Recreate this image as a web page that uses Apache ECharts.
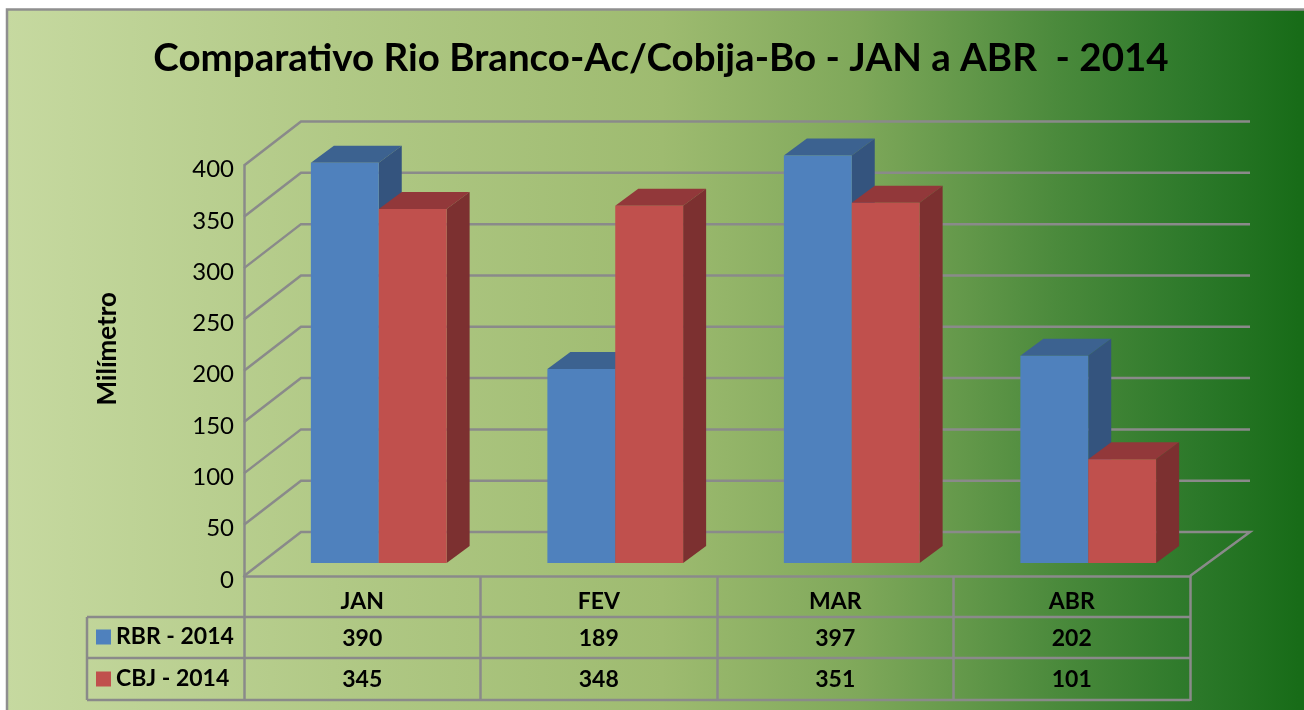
<!DOCTYPE html>
<html>
<head>
<meta charset="utf-8">
<title>Comparativo Rio Branco-Ac/Cobija-Bo</title>
<script src="https://cdn.jsdelivr.net/npm/echarts@6/dist/echarts.min.js"></script>
<style>
html, body { margin: 0; padding: 0; background: #fff; }
#chart { width: 1304px; height: 710px; }
</style>
</head>
<body>
<div id="chart"></div>
<script>
var months = ['JAN', 'FEV', 'MAR', 'ABR'];
var yTicks = [0, 50, 100, 150, 200, 250, 300, 350, 400];
var rbr = [390, 189, 397, 202];
var cbj = [345, 348, 351, 101];

var font = 'Lato, "Open Sans", sans-serif';
var gridColor = '#8a8a8a';
var gridWidth = 2.5;

// 3d look: how far the back wall and the bars sit from the front plane
var wallDx = 57, wallDxRight = 60, wallDy = -44;
var barDx = 23, barDy = -17;
var floorDx = 16.5, floorDy = -13;
var rowY = [638.5, 679.5];

var chart = echarts.init(document.getElementById('chart'), null, {renderer: 'canvas'});

function renderWall(params, api) {
    var tick = api.value(0);
    var p = api.coord([0, tick]);
    var x0 = params.coordSys.x;
    var x1 = x0 + params.coordSys.width;
    var pts = [[x0, p[1]], [x0 + wallDx, p[1] + wallDy], [x1 + wallDxRight, p[1] + wallDy]];
    if (tick === 0) pts.push([x1, p[1]]);
    return {
        type: 'polyline',
        shape: {points: pts},
        style: {stroke: gridColor, lineWidth: gridWidth, fill: null}
    };
}

function barRenderer(side, colors, row) {
    return function (params, api) {
        var i = api.value(0);
        var top = api.coord([i, api.value(1)]);
        var base = api.coord([i, 0]);
        var w = api.size([1, 0])[0] * 0.287;
        var x0 = top[0] + floorDx + (side < 0 ? -w : 0);
        var x1 = x0 + w;
        var y0 = top[1] + floorDy;
        var y1 = base[1] + floorDy;
        return {
            type: 'group',
            children: [
                {type: 'polygon', shape: {points: [[x0, y0], [x0 + barDx, y0 + barDy], [x1 + barDx, y0 + barDy], [x1, y0]]}, style: {fill: colors[1]}},
                {type: 'polygon', shape: {points: [[x1, y0], [x1 + barDx, y0 + barDy], [x1 + barDx, y1 + barDy], [x1, y1]]}, style: {fill: colors[2]}},
                {type: 'rect', shape: {x: x0, y: y0, width: w, height: y1 - y0}, style: {fill: colors[0]}},
                {type: 'text', x: base[0], y: rowY[row], style: {
                    text: String(api.value(1)), font: 'bold 23px ' + font, fill: '#000',
                    align: 'center', verticalAlign: 'middle'
                }}
            ]
        };
    };
}

var tableLeft = 87, tableRight = 1190;
var tableRows = [617, 658, 700];
var frame = [
    {
        type: 'rect', z: -10,
        shape: {x: 7, y: 9.5, width: 1310, height: 712},
        style: {
            fill: new echarts.graphic.LinearGradient(0, 0, 1, 0, [
                {offset: 0, color: '#c6d9a0'},
                {offset: 0.25, color: '#b1c986'},
                {offset: 0.5, color: '#9ebb70'},
                {offset: 0.65, color: '#7fa85a'},
                {offset: 0.8, color: '#4b8a3c'},
                {offset: 0.91, color: '#2b7829'},
                {offset: 0.985, color: '#186c18'},
                {offset: 1, color: '#186c18'}
            ]),
            stroke: '#8f8f8f', lineWidth: 2.5
        }
    },
    {
        type: 'line', z: 1,
        shape: {x1: tableLeft, y1: tableRows[0], x2: tableLeft, y2: tableRows[2]},
        style: {stroke: gridColor, lineWidth: gridWidth}
    }
];
tableRows.forEach(function (y) {
    frame.push({
        type: 'line', z: 1,
        shape: {x1: tableLeft, y1: y, x2: tableRight, y2: y},
        style: {stroke: gridColor, lineWidth: gridWidth}
    });
});

chart.setOption({
    animation: false,
    backgroundColor: '#fff',
    graphic: frame,
    title: {
        text: 'Comparativo Rio Branco-Ac/Cobija-Bo - JAN a ABR  - 2014',
        left: 656, top: 34, textAlign: 'center',
        textStyle: {fontFamily: font, fontWeight: 'bold', fontSize: 38.5, color: '#000'}
    },
    legend: {
        data: ['RBR - 2014', 'CBJ - 2014'],
        orient: 'vertical', left: 96, top: 623,
        padding: 0,
        icon: 'rect', itemWidth: 15, itemHeight: 15, itemGap: 14,
        selectedMode: false,
        textStyle: {fontFamily: font, fontWeight: 'bold', fontSize: 23, color: '#000', lineHeight: 28}
    },
    grid: {left: 244, right: 114, top: 165.5, bottom: 134},
    xAxis: {
        type: 'category',
        data: months,
        axisLine: {lineStyle: {color: gridColor, width: gridWidth}},
        axisTick: {show: true, length: 125, lineStyle: {color: gridColor, width: gridWidth}},
        axisLabel: {margin: 14, color: '#000', fontFamily: font, fontWeight: 'bold', fontSize: 23}
    },
    yAxis: {
        type: 'value',
        min: 0, max: 400, interval: 50,
        name: 'Milímetro',
        nameLocation: 'middle',
        nameGap: 123,
        nameRotate: 90,
        nameTextStyle: {color: '#000', fontFamily: font, fontWeight: 'bold', fontSize: 26, padding: [0, 0, 0, 44]},
        axisLine: {show: true, lineStyle: {color: gridColor, width: gridWidth}},
        axisTick: {show: false},
        splitLine: {show: false},
        axisLabel: {margin: 10, color: '#000', fontFamily: font, fontSize: 24, verticalAlign: 'top', lineHeight: 8}
    },
    series: [
        {
            name: 'walls', type: 'custom', silent: true, z: 1,
            data: yTicks.map(function (t) { return [t]; }),
            encode: {y: 0},
            renderItem: renderWall
        },
        {
            name: 'RBR - 2014', type: 'custom', z: 2,
            itemStyle: {color: '#4f81bd'},
            data: rbr.map(function (v, i) { return [i, v]; }),
            encode: {x: 0, y: 1},
            renderItem: barRenderer(-1, ['#4f81bd', '#3c6290', '#34547e'], 0)
        },
        {
            name: 'CBJ - 2014', type: 'custom', z: 3,
            itemStyle: {color: '#c0504d'},
            data: cbj.map(function (v, i) { return [i, v]; }),
            encode: {x: 0, y: 1},
            renderItem: barRenderer(1, ['#c0504d', '#92383a', '#7c3030'], 1)
        }
    ]
});
</script>
</body>
</html>
